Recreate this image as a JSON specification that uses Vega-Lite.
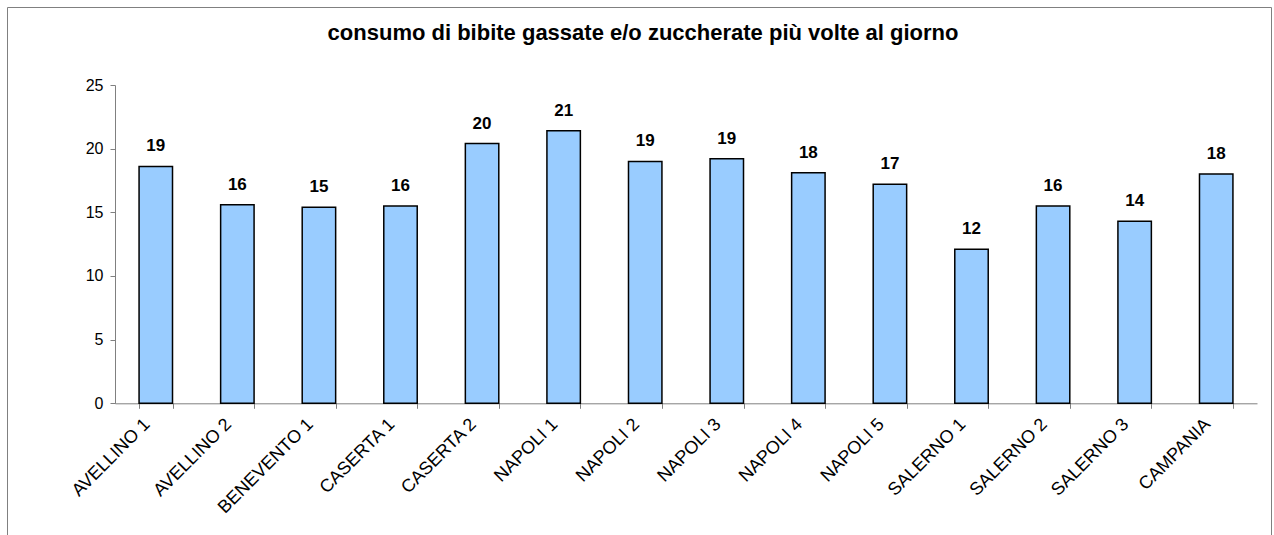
{
  "$schema": "https://vega.github.io/schema/vega-lite/v6.json",
  "width": 1264,
  "height": 528,
  "autosize": {"type": "none"},
  "padding": {"left": 7, "top": 7, "right": 3, "bottom": 0},
  "background": "white",
  "title": {
    "text": "consumo di bibite gassate e/o zuccherate più volte al giorno",
    "font": "Liberation Sans",
    "fontSize": 22,
    "fontWeight": "bold",
    "color": "black",
    "anchor": "middle",
    "offset": -38,
    "dx": 4
  },
  "data": {
    "values": [
      {"asl": "AVELLINO 1", "valore": 18.6},
      {"asl": "AVELLINO 2", "valore": 15.6},
      {"asl": "BENEVENTO 1", "valore": 15.4},
      {"asl": "CASERTA 1", "valore": 15.5},
      {"asl": "CASERTA 2", "valore": 20.4},
      {"asl": "NAPOLI 1", "valore": 21.4},
      {"asl": "NAPOLI 2", "valore": 19.0},
      {"asl": "NAPOLI 3", "valore": 19.2},
      {"asl": "NAPOLI 4", "valore": 18.1},
      {"asl": "NAPOLI 5", "valore": 17.2},
      {"asl": "SALERNO 1", "valore": 12.1},
      {"asl": "SALERNO 2", "valore": 15.5},
      {"asl": "SALERNO 3", "valore": 14.3},
      {"asl": "CAMPANIA", "valore": 18.0}
    ]
  },
  "encoding": {
    "x": {
      "field": "asl",
      "type": "nominal",
      "sort": null,
      "scale": {"range": [108, 1250], "paddingInner": 0.59, "paddingOuter": 0.295},
      "axis": {
        "title": null,
        "offset": -131.7,
        "tickBand": "extent",
        "labelAngle": -45,
        "labelAlign": "right",
        "labelBaseline": "middle",
        "labelFont": "Liberation Sans",
        "labelFontSize": 18,
        "labelColor": "black",
        "labelPadding": 13,
        "labelOffset": -9,
        "labelOverlap": false,
        "domainColor": "#808080",
        "tickColor": "#808080",
        "tickSize": 5,
        "grid": false
      }
    },
    "y": {
      "field": "valore",
      "type": "quantitative",
      "scale": {"domain": [0, 25], "range": [396.3, 78], "nice": false, "zero": true},
      "axis": {
        "title": null,
        "offset": -108,
        "values": [0, 5, 10, 15, 20, 25],
        "labelFont": "Liberation Sans",
        "labelFontSize": 16,
        "labelColor": "black",
        "labelPadding": 7,
        "domainColor": "#808080",
        "tickColor": "#808080",
        "tickSize": 5,
        "grid": false
      }
    }
  },
  "layer": [
    {"mark": {"type": "bar", "fill": "#99CCFF", "stroke": "black", "strokeWidth": 1.5}},
    {
      "mark": {"type": "text", "dy": -15, "baseline": "alphabetic", "font": "Liberation Sans", "fontSize": 17, "fontWeight": "bold", "color": "black"},
      "encoding": {"text": {"field": "valore", "type": "quantitative", "format": ".0f"}}
    }
  ],
  "config": {"view": {"stroke": "#808080", "strokeWidth": 1}}
}
